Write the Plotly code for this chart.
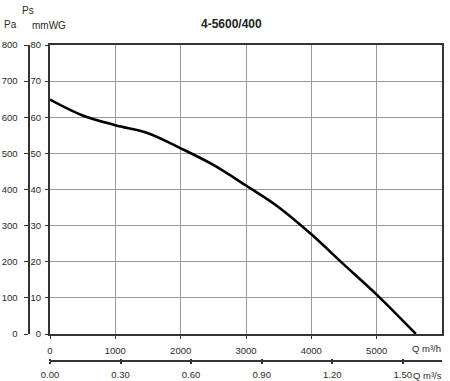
import plotly.graph_objects as go

# Airflow Q (m3/h) and static pressure Ps (mmWG)
q_m3h = [0, 500, 1000, 1500, 2000, 2500, 3000, 3500, 4000, 4500, 5000, 5600]
ps_mmwg = [64.9, 60.5, 57.8, 55.6, 51.4, 46.8, 41.1, 35.1, 27.6, 19.2, 10.9, 0]

x_ticks = [0, 1000, 2000, 3000, 4000, 5000]
y_ticks = [0, 10, 20, 30, 40, 50, 60, 70, 80]
pa_ticks = [0, 100, 200, 300, 400, 500, 600, 700, 800]
qs_ticks = [0.0, 0.3, 0.6, 0.9, 1.2, 1.5]
title_text = "4-5600/400"

W, H = 450, 381
FONT = "Liberation Sans, Arial, sans-serif"
TXT = "#2a2a2a"

q_m3s = [v / 3600 for v in q_m3h]
ps_pa = [v * 10 for v in ps_mmwg]

fig = go.Figure()
fig.add_trace(go.Scatter(x=q_m3h, y=ps_mmwg, mode="lines",
                         line=dict(color="black", width=2.6, shape="spline", smoothing=1.0),
                         showlegend=False, hoverinfo="skip"))
# invisible companions to carry the secondary axes
fig.add_trace(go.Scatter(x=q_m3s, y=ps_mmwg, xaxis="x2", yaxis="y", mode="lines",
                         line=dict(width=0), opacity=0, showlegend=False, hoverinfo="skip"))
fig.add_trace(go.Scatter(x=q_m3h, y=ps_pa, xaxis="x", yaxis="y2", mode="lines",
                         line=dict(width=0), opacity=0, showlegend=False, hoverinfo="skip"))
fig.add_trace(go.Scatter(x=q_m3s, y=ps_mmwg, xaxis="x3", yaxis="y", mode="lines",
                         line=dict(width=0), opacity=0, showlegend=False, hoverinfo="skip"))

xd = [50 / W, 442 / W]
yd = [(H - 334) / H, (H - 45) / H]
tf = dict(family=FONT, size=9.5, color=TXT)

fig.update_layout(
    width=W, height=H,
    margin=dict(l=0, r=0, t=0, b=0, autoexpand=False),
    paper_bgcolor="white", plot_bgcolor="white",
    font=dict(family=FONT, color=TXT),
    xaxis=dict(domain=xd, range=[0, 6000], tickvals=x_ticks, ticktext=[str(v) for v in x_ticks],
               showgrid=True, gridcolor="#9a9a9a", gridwidth=1, zeroline=False,
               showline=True, linecolor="#333333", linewidth=2, mirror=True,
               ticks="outside", ticklen=3, tickcolor="#333333", tickfont=tf,
               ticklabelstandoff=4, anchor="y", fixedrange=True, automargin=False),
    yaxis=dict(domain=yd, range=[0, 80], tickvals=y_ticks,
               showgrid=True, gridcolor="#9a9a9a", gridwidth=1, zeroline=False,
               showline=True, linecolor="#333333", linewidth=2, mirror=True,
               ticks="outside", ticklen=3, tickcolor="#333333", tickfont=tf,
               ticklabelstandoff=2, anchor="x", fixedrange=True, automargin=False),
    yaxis2=dict(overlaying="y", anchor="free", position=28.5 / W, side="left",
                range=[0, 800], tickvals=pa_ticks, showgrid=False, zeroline=False,
                showline=True, linecolor="#333333", linewidth=2,
                ticks="outside", ticklen=4, tickcolor="#333333", tickfont=tf,
                ticklabelstandoff=4, fixedrange=True, automargin=False),
    xaxis2=dict(overlaying="x", anchor="free", position=(H - 361) / H, side="bottom",
                range=[0, 6000 / 3600], tickvals=qs_ticks,
                ticktext=[f"{v:.2f}" for v in qs_ticks],
                showgrid=False, zeroline=False,
                showline=True, linecolor="#333333", linewidth=1.6,
                ticks="outside", ticklen=2, tickwidth=1.6, tickcolor="#333333", tickfont=tf,
                ticklabelstandoff=3, fixedrange=True, automargin=False),
    xaxis3=dict(overlaying="x", anchor="free", position=(H - 361) / H, side="top",
                range=[0, 6000 / 3600], tickvals=qs_ticks, showticklabels=False,
                showgrid=False, zeroline=False, showline=False,
                ticks="outside", ticklen=2, tickwidth=1.6, tickcolor="#333333",
                fixedrange=True, automargin=False),
)

ann = [
    dict(text=f"<b>{title_text}</b>", x=231 / W, y=(H - 24) / H, font=dict(size=12, family=FONT, color="#222")),
    dict(text="Pa", x=10.5 / W, y=(H - 25) / H, font=dict(size=10, family=FONT, color=TXT)),
    dict(text="Ps", x=28 / W, y=(H - 10.5) / H, font=dict(size=10, family=FONT, color=TXT)),
    dict(text="mmWG", x=30 / W, y=(H - 25.5) / H, xanchor="left", font=dict(size=10, family=FONT, color=TXT)),
    dict(text="Q m³/h", x=443 / W, y=(H - 348) / H, xanchor="right", font=dict(size=9.5, family=FONT, color=TXT)),
    dict(text="Q m³/s", x=444 / W, y=(H - 375) / H, xanchor="right", font=dict(size=9.5, family=FONT, color=TXT)),
]
for a in ann:
    a.setdefault("xanchor", "center")
    fig.add_annotation(xref="paper", yref="paper", showarrow=False, yanchor="middle", **a)

fig.write_html("out.html", config={"displayModeBar": False},
               post_script="document.body.style.margin='0px';document.body.style.overflow='hidden';")
